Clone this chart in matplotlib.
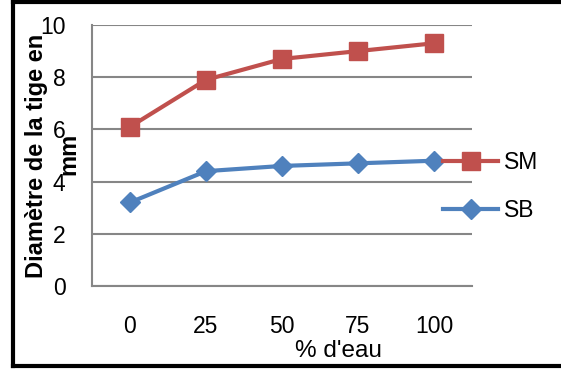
import matplotlib.pyplot as plt
from matplotlib.lines import Line2D

# diametre des tiges selon le pourcentage d'eau
water = ['0', '25', '50', '75', '100']
sm = [6.1, 7.9, 8.7, 9.0, 9.3]
sb = [3.2, 4.4, 4.6, 4.7, 4.8]

red = '#C0504D'
blue = '#4F81BD'
grid = '#868686'
fs = 16.5

plt.rcParams['font.family'] = ['Liberation Sans', 'DejaVu Sans']

fig = plt.figure(figsize=(5.61, 3.71), dpi=100)
ax = fig.add_axes([92 / 561, 85 / 371, 380 / 561, 261 / 371])

x = range(len(water))
l_sm, = ax.plot(x, sm, color=red, lw=3, marker='s', ms=13.5, label='SM', zorder=3)
l_sb, = ax.plot(x, sb, color=blue, lw=3, marker='D', ms=10, label='SB', zorder=3)

ax.set_xlim(-0.5, len(water) - 0.5)
ax.set_ylim(0, 10)
ax.set_xticks(list(x))
ax.set_xticklabels(water)
ax.set_yticks([0, 2, 4, 6, 8, 10])
ax.tick_params(axis='both', length=0, labelsize=fs)
ax.tick_params(axis='y', pad=19)
ax.tick_params(axis='x', pad=21)
ax.grid(axis='y', color=grid, lw=1.5)
ax.set_axisbelow(True)
for s in ['top', 'right']:
    ax.spines[s].set_visible(False)
for s in ['left', 'bottom']:
    ax.spines[s].set_color(grid)
    ax.spines[s].set_linewidth(1.5)

# titre de l'axe y sur deux lignes
fig.text(43 / 561, 1 - 156 / 371, "Diamètre de la tige en", fontsize=17,
         fontweight='bold', rotation=90, rotation_mode='anchor',
         ha='center', va='baseline')
fig.text(75 / 561, 1 - 154 / 371, "mm", fontsize=17, fontweight='bold',
         rotation=90, rotation_mode='anchor', ha='center', va='baseline')

fig.text(338 / 561, 1 - 357 / 371, "% d'eau", fontsize=17.5,
         ha='center', va='baseline')

ax.legend(handles=[l_sm, l_sb], loc='center left', frameon=False,
          bbox_to_anchor=(443 / 561, 1 - 186.5 / 371), bbox_transform=fig.transFigure,
          fontsize=fs, borderaxespad=0, borderpad=0, handlelength=2.4,
          handletextpad=0.25, labelspacing=1.05)

# cadre noir autour du graphique
for xs, ys in [([13, 13], [2, 366]), ([13, 600], [2, 2]), ([13, 600], [366, 366])]:
    fig.add_artist(Line2D([v / 561 for v in xs], [1 - v / 371 for v in ys],
                          color='black', lw=3, transform=fig.transFigure,
                          solid_capstyle='projecting', zorder=10))

fig.savefig('out.png', dpi=100)
